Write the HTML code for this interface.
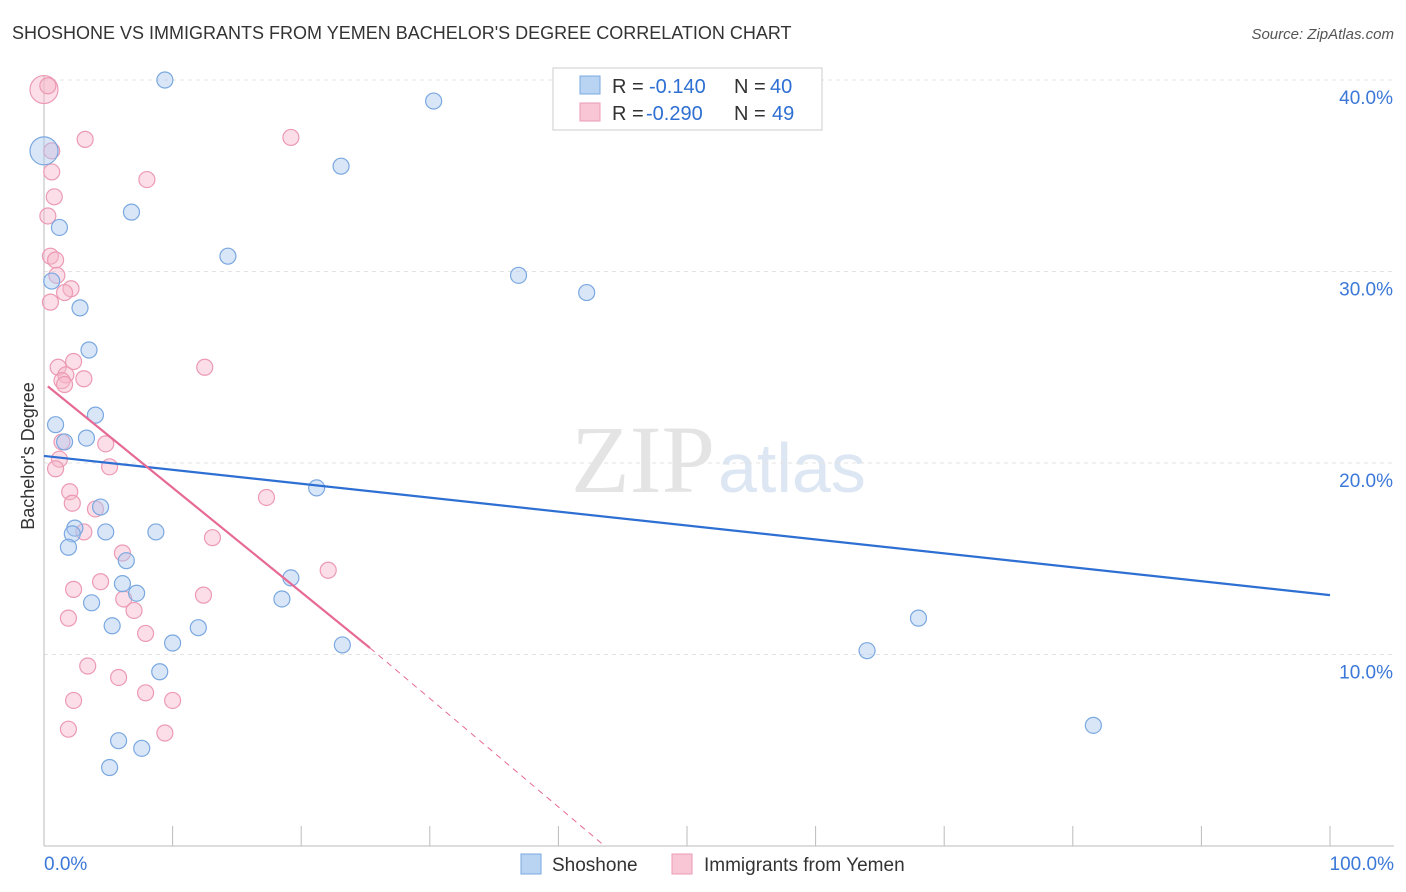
<!DOCTYPE html>
<html><head><meta charset="utf-8"><style>
body{margin:0;background:#fff;font-family:"Liberation Sans",sans-serif;}
#c{position:absolute;left:0;top:0;}
</style></head><body>
<svg id="c" width="1406" height="892">
<text x="12" y="39" font-size="18" fill="#333">SHOSHONE VS IMMIGRANTS FROM YEMEN BACHELOR'S DEGREE CORRELATION CHART</text>
<text x="1394" y="39" font-size="15" fill="#555" font-style="italic" text-anchor="end">Source: ZipAtlas.com</text>
<text x="715" y="492" font-size="96" fill="#e4e4e4" font-family="Liberation Serif,serif" text-anchor="end">ZIP</text>
<text x="718" y="492" font-size="70" fill="#dde6f3">atlas</text>
<text transform="translate(34,456) rotate(-90)" font-size="18" fill="#333" text-anchor="middle">Bachelor's Degree</text>
<g id="grid"></g><g id="marks"></g><g id="lines"></g>
<g>
<rect x="553" y="68" width="269" height="62" fill="#fff" stroke="#ccc"/>
<rect x="580" y="76" width="20" height="18" fill="#b9d3f3" stroke="#7aa8e0"/>
<rect x="580" y="103" width="20" height="18" fill="#f9c6d5" stroke="#ec9ab4"/>
<text x="612" y="93" font-size="20" fill="#333">R =</text><text x="649" y="93" font-size="20" fill="#2d6fd2">-0.140</text>
<text x="734" y="93" font-size="20" fill="#333">N =</text><text x="770" y="93" font-size="20" fill="#2d6fd2">40</text>
<text x="612" y="120" font-size="20" fill="#333">R =</text><text x="646" y="120" font-size="20" fill="#2d6fd2">-0.290</text>
<text x="734" y="120" font-size="20" fill="#333">N =</text><text x="772" y="120" font-size="20" fill="#2d6fd2">49</text>
</g>
<g>
<rect x="521" y="854" width="20" height="20" fill="#b9d3f3" stroke="#7aa8e0"/>
<text x="552" y="871" font-size="19" fill="#333">Shoshone</text>
<rect x="672" y="854" width="20" height="20" fill="#f9c6d5" stroke="#ec9ab4"/>
<text x="704" y="871" font-size="19" fill="#333">Immigrants from Yemen</text>
</g>
</svg>
<script>
const blueX=[9.4,30.3,23.1,6.8,1.2,14.3,36.9,42.2,0.6,2.8,3.5,4.0,0.9,3.3,1.6,21.2,4.4,2.4,2.2,4.8,8.7,1.9,6.4,19.2,6.1,7.2,18.5,3.7,5.3,12.0,10.0,23.2,68.0,64.0,9.0,81.6,5.8,7.6,5.1,0.0];
const blueY=[40.0,38.9,35.5,33.1,32.3,30.8,29.8,28.9,29.5,28.1,25.9,22.5,22.0,21.3,21.1,18.7,17.7,16.6,16.3,16.4,16.4,15.6,14.9,14.0,13.7,13.2,12.9,12.7,11.5,11.4,10.6,10.5,11.9,10.2,9.1,6.3,5.5,5.1,4.1,36.3];
const pinkX=[0.0,0.3,3.2,19.2,0.6,0.6,8.0,0.8,0.3,0.5,0.9,1.0,2.1,1.6,0.5,12.5,1.1,2.3,1.7,1.4,3.1,1.6,1.4,4.8,1.2,5.1,0.9,2.0,2.2,17.3,4.0,3.1,13.1,6.1,22.1,4.4,2.3,12.4,6.2,7.0,1.9,7.9,3.4,5.8,7.9,10.0,2.3,1.9,9.4];
const pinkY=[39.5,39.7,36.9,37.0,36.3,35.2,34.8,33.9,32.9,30.8,30.6,29.8,29.1,28.9,28.4,25.0,25.0,25.3,24.6,24.3,24.4,24.1,21.1,21.0,20.2,19.8,19.7,18.5,17.9,18.2,17.6,16.4,16.1,15.3,14.4,13.8,13.4,13.1,12.9,12.3,11.9,11.1,9.4,8.8,8.0,7.6,7.6,6.1,5.9];
const blueR=[12,12,12,12,12,12,12,12,12,12,12,12,12,12,12,12,12,12,12,12,12,12,12,12,12,12,12,12,12,12,12,12,12,12,12,12,12,12,12,26];
const X=v=>44+v*12.86, Y=v=>846-v*19.15;
const ns="http://www.w3.org/2000/svg";
const grid=document.getElementById('grid'),marks=document.getElementById('marks'),lines=document.getElementById('lines');
function mk(tag,at,parent){const e=document.createElementNS(ns,tag);for(const k in at)e.setAttribute(k,at[k]);parent.appendChild(e);return e;}
const yTicks=[10,20,30,40];
yTicks.forEach(t=>{
 const l=mk('line',{x1:44,x2:1394,y1:Y(t),y2:Y(t),stroke:'#e3e3e3','stroke-dasharray':'4,4'},grid);
 
 
 const tx=mk('text',{x:1393,y:Y(t)+24,'font-size':19,fill:'#3b78d8','text-anchor':'end'},grid);tx.textContent=t+'.0%';
 
 
});
mk('line',{x1:44,x2:1394,y1:846,y2:846,stroke:'#bbb'},grid);
mk('line',{x1:44,x2:44,y1:75,y2:846,stroke:'#bbb'},grid);
for(let i=0;i<=10;i++){const l=mk('line',{x1:X(i*10),x2:X(i*10),y1:826,y2:846,stroke:'#bbb'},grid);
 
 }
const xl=[['0.0%',44,'start'],['100.0%',1394,'end']];
xl.forEach(a=>{const t=mk('text',{x:a[1],y:870,'font-size':19,fill:'#3b78d8','text-anchor':a[2]},grid);t.textContent=a[0];
 
 });
pinkX.forEach((v,i)=>{const c=mk('circle',{cx:X(v),cy:Y(pinkY[i]),r:i==0?14:8,fill:'rgba(246,182,201,0.45)',stroke:'#ec9ab4','stroke-width':1.2},marks);
 
 });
blueX.forEach((v,i)=>{const c=mk('circle',{cx:X(v),cy:Y(blueY[i]),r:blueR[i]==26?14:8,fill:'rgba(170,200,240,0.45)',stroke:'#7aa8e0','stroke-width':1.2},marks);
 
 });
const bl=mk('line',{x1:X(0),y1:Y(20.37),x2:X(100),y2:Y(13.1),stroke:'#2d6fd2','stroke-width':2.2},lines);

const pl=mk('line',{x1:X(0.3),y1:Y(24.0),x2:X(25.35),y2:Y(10.34),stroke:'#e66a94','stroke-width':2.2},lines);

const pd=mk('line',{x1:X(25.35),y1:Y(10.34),x2:X(43.6),y2:Y(0),stroke:'#e66a94','stroke-width':1,'stroke-dasharray':'6,5'},lines);

</script>
</body></html>
